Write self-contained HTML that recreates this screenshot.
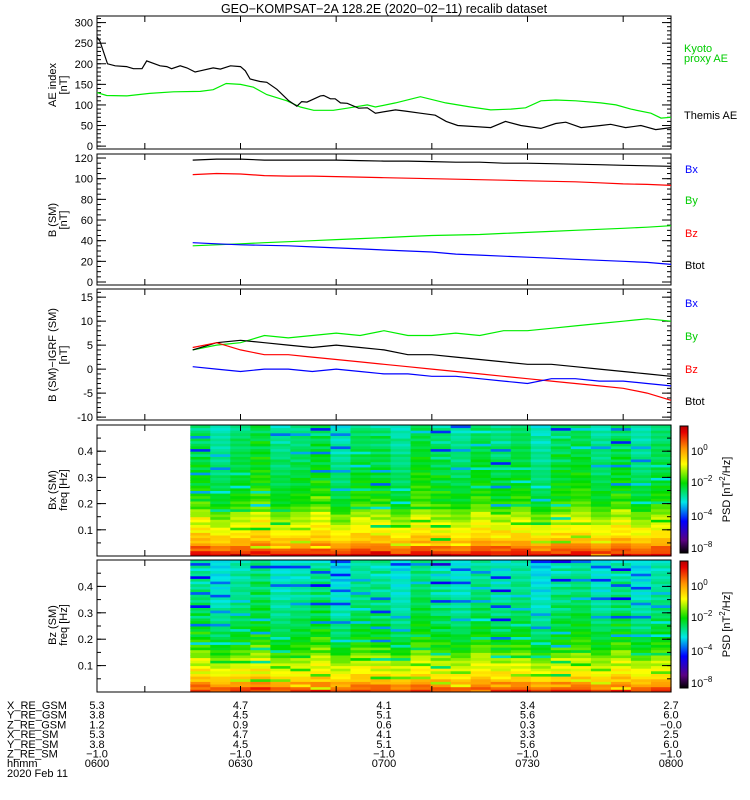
<!DOCTYPE html>
<html><head><meta charset="utf-8"><style>
body{margin:0;background:#fff}
svg{display:block;font-family:"Liberation Sans",sans-serif}
text{font-size:11px}
</style></head><body>
<svg id="chart" width="750" height="800" viewBox="0 0 750 800">
<text x="384" y="13" text-anchor="middle" style="font-size:12.5px">GEO−KOMPSAT−2A 128.2E (2020−02−11) recalib dataset</text>
<g id="layer"></g>
</svg>
<script>
// ---------- data ----------
const aeThemisT=[0,0.6,2.2,3.8,6.2,7.6,9.4,10.4,13.2,14.6,15.6,17.4,18.8,20.5,21.6,24.3,25.8,27.9,30,31,32,34.1,35.5,37.6,40.1,41.8,42.8,43.9,46.7,47.4,48.8,49.8,50.9,52.3,54.7,56.5,58.2,62.4,64.5,67.6,70.7,73,75.4,82.3,85.4,88.6,92.8,95.9,98,101.2,105.3,107.4,110.5,113.7,116.8,120];
const aeThemisV=[265,255,200,195,193,188,188,207,195,193,188,195,190,180,183,190,187,195,193,183,163,157,155,138,110,97,108,107,122,123,115,115,105,104,92,93,80,88,85,80,75,60,50,45,60,50,43,55,58,45,50,53,45,50,40,45];
const aeKyotoT=[0,2,6.2,11,16,21.6,24.3,27,30,32.7,35.5,39.7,42.5,45.3,49.4,52.3,56.5,58.2,62.4,67.6,72.9,78.1,82.3,86.5,89.6,92.8,95.9,100.1,105.3,108.5,111.6,115.8,117.9,120];
const aeKyotoV=[130,123,122,128,132,133,137,152,150,143,125,110,95,87,87,92,100,95,105,120,105,95,88,90,93,110,112,110,105,100,90,80,68,70];
const bTimes=[20,25,30,35,40,45,50,55,60,65,70,75,80,85,90,95,100,105,110,115,120];
const bBtot=[118,119,119,118,118,118,118,117.5,117,117,116.5,116,116,115,115,114.5,114,113.5,113,112.5,112];
const bBz=[104,105,104.5,103,102.5,102.5,102,101.5,101,100.5,100,99.5,99,98.5,98,97.5,97,96,95,94.5,93.5];
const bBy=[35,36,37,38,39,40,41,42,43,44,45,45.5,46,47,48,49,50,51,52,53,54.5];
const bBx=[38,37,36,35.5,35,34,33,32,31,30,29,27,26,25,24,23,22,21,20,19,17];
const dBtot=[4,5.5,6,5.5,5,4.5,5,4.5,4,3,3,2.5,2,1.5,1,1,0.5,0,-0.5,-1,-1.5];
const dBy=[4,5,5.5,7,6.5,7,7.5,7,8,7,7,7.5,7,8,8,8.5,9,9.5,10,10.5,10];
const dBz=[4.5,5.5,4,3,3,2.5,2,1.5,1,0.5,0,-0.5,-1,-1.5,-2,-2.5,-3,-3.5,-4,-5,-6.5];
const dBx=[0.5,0,-0.5,0,0,-0.5,0,-0.5,-1,-1,-1.5,-1.5,-2,-2.5,-3,-2,-2,-2.5,-2.5,-3,-3.5];
const specBxProfile=[0.95,0.9,0.86,0.84,0.8,0.78,0.76,0.74,0.72,0.7,0.7,0.68,0.67,0.66,0.65,0.64,0.62,0.6,0.58,0.57,0.56,0.55,0.55,0.54,0.54,0.53,0.53,0.52,0.52,0.52,0.51,0.51,0.5,0.5,0.5,0.5,0.49,0.49,0.49,0.48,0.48,0.48,0.48,0.47,0.47,0.47,0.46,0.46,0.46,0.45];
const specBzProfile=[0.9,0.86,0.82,0.8,0.76,0.74,0.72,0.7,0.69,0.68,0.66,0.65,0.64,0.62,0.6,0.58,0.57,0.56,0.55,0.54,0.53,0.52,0.52,0.51,0.5,0.5,0.49,0.49,0.48,0.48,0.47,0.47,0.46,0.46,0.46,0.45,0.45,0.45,0.44,0.44,0.44,0.44,0.43,0.43,0.43,0.43,0.42,0.42,0.42,0.42];
const specBxStripe=[0,0.03,-0.02,0.04,0,-0.03,0.02,0,0.05,-0.02,0.03,0,-0.04,0.02,0.06,-0.02,0,0.03,-0.03,0.01,0.04,-0.05,0.02,0,-0.2,0.03,0.01,-0.04,0.02,0,0.03,-0.18,0.02,-0.03,0.04,0,-0.02,0.03,-0.05,0.01,-0.22,0.03,0,-0.03,0.02,-0.15,0.03,0,-0.04,0.02];
const specBzStripe=[0,-0.03,0.04,0.02,-0.02,0.03,0,-0.04,0.05,0.01,-0.03,0.02,0.05,-0.02,0,0.04,-0.03,0.02,-0.18,0.03,0,-0.04,0.05,-0.02,0.02,-0.2,0.03,0,-0.05,0.04,-0.02,0.01,-0.22,0.03,-0.03,0.02,0,-0.16,0.04,-0.02,0.01,-0.05,0.03,-0.2,0,0.02,-0.04,0.03,-0.15,0.01];
const specColOffset=[0.02,-0.03,0.01,0.04,-0.02,0,0.03,-0.04,0.02,0.01,-0.03,0.04,0,-0.02,0.03,-0.01,0.02,-0.04,0.01,0.03,-0.02,0.02,-0.03,0.01];
const ephemLabels=["X_RE_GSM","Y_RE_GSM","Z_RE_GSM","X_RE_SM","Y_RE_SM","Z_RE_SM","hhmm"];
const ephemRows=[["5.3","4.7","4.1","3.4","2.7"],["3.8","4.5","5.1","5.6","6.0"],["1.2","0.9","0.6","0.3","−0.0"],["5.3","4.7","4.1","3.3","2.5"],["3.8","4.5","5.1","5.6","6.0"],["−1.0","−1.0","−1.0","−1.0","−1.0"],["0600","0630","0700","0730","0800"]];

// ---------- helpers ----------
const NS="http://www.w3.org/2000/svg";
const L=document.getElementById('layer');
const X0=97,X1=671;
const xs=t=>X0+(X1-X0)*t/120;
function mk(tag,at,parent){const e=document.createElementNS(NS,tag);for(const k in at)e.setAttribute(k,at[k]);(parent||L).appendChild(e);return e;}
function txt(x,y,s,at){const e=mk('text',Object.assign({x:x,y:y},at||{}));e.textContent=s;return e;}
const panels=[
 {top:16,bot:149,vTop:316,vBot:-7},
 {top:154,bot:285,vTop:123.9,vBot:-2.9},
 {top:289,bot:420,vTop:16.7,vBot:-10.6},
 {top:425,bot:556,vTop:0.5,vBot:0},
 {top:560,bot:692,vTop:0.5,vBot:0}];
function ys(p,v){return p.bot-(v-p.vBot)/(p.vTop-p.vBot)*(p.bot-p.top);}
function line(p,T,V,color,name){
  const d=T.map((t,i)=>(i?'L':'M')+xs(t).toFixed(1)+','+ys(p,V[i]).toFixed(1)).join('');
  const e=mk('path',{d:d,fill:'none',stroke:color,'stroke-width':1.2});
  
  
}
function frame(p,i,majors,minorStep,fmt){
  const g=mk('g',{});
  
  
  mk('rect',{x:X0,y:p.top,width:X1-X0,height:p.bot-p.top,fill:'none',stroke:'#000','stroke-width':1},g);
  [10,30,50,70,90,110].forEach(t=>{
    mk('line',{x1:xs(t),x2:xs(t),y1:p.bot,y2:p.bot-6,stroke:'#000'},g);
    mk('line',{x1:xs(t),x2:xs(t),y1:p.top,y2:p.top+6,stroke:'#000'},g);});
  for(let v=Math.ceil(p.vBot/minorStep)*minorStep;v<=p.vTop;v+=minorStep){
    const y=ys(p,v);mk('line',{x1:X0,x2:X0+4,y1:y,y2:y,stroke:'#000'},g);mk('line',{x1:X1,x2:X1-4,y1:y,y2:y,stroke:'#000'},g);}
  majors.forEach(v=>{const y=ys(p,v);
    mk('line',{x1:X0,x2:X0+9,y1:y,y2:y,stroke:'#000'},g);mk('line',{x1:X1,x2:X1-9,y1:y,y2:y,stroke:'#000'},g);
    const t=txt(93,y+4,fmt(v),{'text-anchor':'end'});});
}
function ylab(lines,cy,name){
  lines.forEach((s,k)=>{const x=56+k*11;const t=txt(x,cy,s,{'text-anchor':'middle',transform:`rotate(-90 ${x} ${cy})`});
  });
}
function lab(x,y,s,c,name){const t=txt(x,y,s,{fill:c});}
const stops=[[0,[0,0,0]],[0.1,[90,0,130]],[0.25,[0,0,255]],[0.4,[0,230,230]],[0.55,[0,220,0]],[0.7,[255,255,0]],[0.82,[255,150,0]],[0.95,[230,0,0]],[1,[180,0,0]]];
function cmap(v){v=Math.max(0,Math.min(1,v));for(let i=1;i<stops.length;i++){if(v<=stops[i][0]){const a=stops[i-1],b=stops[i],f=(v-a[0])/(b[0]-a[0]);return 'rgb('+a[1].map((c,k)=>Math.round(c+(b[1][k]-c)*f)).join(',')+')';}}return 'rgb(180,0,0)';}

// ---------- panel 1 ----------
frame(panels[0],0,[0,50,100,150,200,250,300],10,v=>String(v));
line(panels[0],aeKyotoT,aeKyotoV,'#00ee00','kyoto-ae-line');
line(panels[0],aeThemisT,aeThemisV,'#000','themis-ae-line');
ylab(['AE index','[nT]'],85,'ae-y-axis-title');
lab(684,52,'Kyoto','#00cc00','legend-kyoto');lab(684,62,'proxy AE','#00cc00','legend-kyoto');
lab(684,119,'Themis AE','#000','legend-themis');
// ---------- panel 2 ----------
frame(panels[1],1,[0,20,40,60,80,100,120],5,v=>String(v));
line(panels[1],bTimes,bBtot,'#000','btot-line');
line(panels[1],bTimes,bBz,'#f00','bz-line');
line(panels[1],bTimes,bBy,'#00ee00','by-line');
line(panels[1],bTimes,bBx,'#00f','bx-line');
ylab(['B (SM)','[nT]'],220,'b-y-axis-title');
lab(685,173,'Bx','#00f','legend-bx');lab(685,204,'By','#00cc00','legend-by');lab(685,237,'Bz','#f00','legend-bz');lab(685,269,'Btot','#000','legend-btot');
// ---------- panel 3 ----------
frame(panels[2],2,[-10,-5,0,5,10,15],1,v=>String(v));
line(panels[2],bTimes,dBy,'#00ee00','dby-line');
line(panels[2],bTimes,dBtot,'#000','dbtot-line');
line(panels[2],bTimes,dBz,'#f00','dbz-line');
line(panels[2],bTimes,dBx,'#00f','dbx-line');
ylab(['B (SM)−IGRF (SM)','[nT]'],355,'db-y-axis-title');
lab(685,307,'Bx','#00f','legend-dbx');lab(685,340,'By','#00cc00','legend-dby');lab(685,373,'Bz','#f00','legend-dbz');lab(685,405,'Btot','#000','legend-dbtot');
// ---------- spectrograms ----------
function spec(p,profile,stripe,name){
  const g=mk('g',{});
  
  
  const nc=specColOffset.length,nr=profile.length,t0=19.5,dt=(120-t0)/nc,df=0.5/nr;
  for(let c=0;c<nc;c++)for(let r=0;r<nr;r++){
    const x=xs(t0+c*dt),y=ys(p,(r+1)*df);
    const v=profile[r]+stripe[(r+c*7)%nr]*(c%3===0?1:0.6)+specColOffset[c]*(r<12?0.5:1);
    const e=mk('rect',{x:x.toFixed(1),y:y.toFixed(1),width:(xs(dt)-X0+0.6).toFixed(1),height:(ys(p,0)-ys(p,df)+0.5).toFixed(1),fill:cmap(v)},g);
    
    
  }
}
spec(panels[3],specBxProfile,specBxStripe,'bx-spectrogram');
spec(panels[4],specBzProfile,specBzStripe,'bz-spectrogram');
frame(panels[3],3,[0.1,0.2,0.3,0.4],0.05,v=>v.toFixed(1));
frame(panels[4],4,[0.1,0.2,0.3,0.4],0.05,v=>v.toFixed(1));
ylab(['Bx (SM)','freq [Hz]'],490,'bx-spec-y-axis-title');
ylab(['Bz (SM)','freq [Hz]'],625,'bz-spec-y-axis-title');
// colorbars
const defs=mk('defs',{});
const gr=mk('linearGradient',{id:'cb',x1:0,y1:1,x2:0,y2:0},defs);
stops.forEach(s=>mk('stop',{offset:s[0],'stop-color':cmap(s[0])},gr));
[[426,553],[561,688]].forEach((cb,i)=>{
  const r=mk('rect',{x:680,y:cb[0],width:8,height:cb[1]-cb[0],fill:'url(#cb)',stroke:'#000'});
  
  [[25,'0'],[56,'−2'],[90,'−4'],[122,'−8']].forEach(k=>{
    const t=mk('text',{x:691,y:cb[0]+k[0]+4});
    t.innerHTML='10<tspan dy="-5" style="font-size:8px">'+k[1]+'</tspan>';});
  const cy=(cb[0]+cb[1])/2,x=730;
  const t=mk('text',{x:x,y:cy,'text-anchor':'middle',transform:`rotate(-90 ${x} ${cy})`});
  
  t.innerHTML='PSD [nT<tspan dy="-5" style="font-size:8px">2</tspan><tspan dy="5">/Hz]</tspan>';
});
// ---------- ephemeris ----------
ephemLabels.forEach((s,i)=>{const y=709+i*9.7;lab(7,y,s,'#000','ephem-label');
  ephemRows[i].forEach((v,j)=>{const t=txt(xs(j*30),y,v,{'text-anchor':'middle'});});});
lab(7,777,'2020 Feb 11','#000','date-label');
</script>
</body></html>
